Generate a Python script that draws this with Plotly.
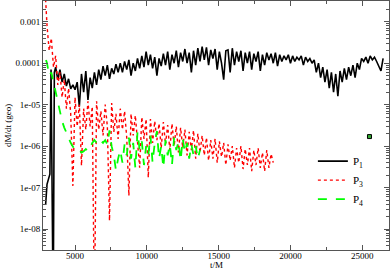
import plotly.graph_objects as go

# ---------------- data ----------------
# P1 (black solid)
t_p1 = [2950, 3000, 3050, 3150, 3250, 3330, 3480, 3560] + list(range(3650, 26451, 150))
p1 = [3.8e-8, 7.6e-8, 1.2e-7, 1.6e-7, 2.1e-7, 7.0e-5, 1e-10, 6.0e-5,
      8.0e-5, 4.0e-5, 7.0e-5, 3.5e-5, 5.5e-5, 2.8e-5, 4.2e-5, 2.4e-5, 3.0e-5, 2.3e-5,
      3.5e-5, 9.0e-6, 5.5e-5, 2.0e-5, 6.5e-5, 1.3e-5, 4.5e-5, 2.5e-5, 6.0e-5, 3.0e-5,
      7.0e-5, 4.0e-5, 8.5e-5, 5.0e-5, 9.0e-5, 4.2e-5, 7.5e-5, 5.5e-5, 9.5e-5, 6.0e-5,
      1.0e-4, 6.0e-5, 1.1e-4, 7.0e-5, 1.2e-4, 5.0e-5, 1.0e-4, 6.5e-5, 1.3e-4, 7.5e-5,
      1.5e-4, 8.0e-5, 1.9e-4, 9.0e-5, 1.6e-4, 7.5e-5, 1.4e-4, 5.0e-5, 1.3e-4, 8.5e-5,
      1.7e-4, 9.0e-5, 1.9e-4, 7.0e-5, 1.6e-4, 1.0e-4, 2.0e-4, 8.0e-5, 1.8e-4, 1.1e-4,
      2.2e-4, 1.0e-4, 1.8e-4, 6.0e-5, 2.0e-4, 9.0e-5, 2.3e-4, 1.1e-4, 2.5e-4, 1.2e-4,
      2.4e-4, 9.0e-5, 2.1e-4, 1.3e-4, 2.2e-4, 7.0e-5, 1.9e-4, 1.0e-4, 4.0e-5, 2.0e-4,
      2.1e-4, 6.0e-5, 2.3e-4, 9.0e-5, 1.9e-4, 1.1e-4, 2.0e-4, 6.5e-5, 1.8e-4, 1.0e-4,
      1.9e-4, 7.0e-5, 1.7e-4, 1.1e-4, 1.9e-4, 6.5e-5, 1.6e-4, 9.0e-5, 1.8e-4, 1.2e-4,
      1.7e-4, 1.0e-4, 1.8e-4, 8.5e-5, 1.6e-4, 1.1e-4, 1.5e-4, 1.2e-4, 1.6e-4, 1.0e-4,
      1.5e-4, 1.1e-4, 1.4e-4, 1.2e-4, 1.5e-4, 9.0e-5, 1.4e-4, 1.1e-4, 1.3e-4, 1.0e-4,
      1.2e-4, 6.0e-5, 1.0e-4, 4.5e-5, 8.0e-5, 3.5e-5, 7.0e-5, 2.5e-5, 6.0e-5, 2.0e-5,
      5.5e-5, 1.6e-5, 6.5e-5, 3.5e-5, 7.5e-5, 4.0e-5, 8.0e-5, 5.0e-5, 9.0e-5, 4.5e-5,
      1.0e-4, 7.0e-5, 1.3e-4, 1.1e-4, 1.4e-4, 1.0e-4, 1.5e-4, 1.2e-4, 1.4e-4, 1.1e-4,
      8.0e-5, 6.5e-5, 1.3e-4]

# P3 (red dotted)
t_p3 = [2950, 3000] + list(range(3050, 18801, 150))
p3 = [3.5e-3, 1.5e-3,
      8.0e-4, 2.0e-4, 4.0e-4, 8.0e-5, 1.5e-4, 3.0e-5, 6.0e-5, 1.5e-5, 4.0e-5, 8.0e-6,
      2.5e-5, 6.0e-6, 1.1e-7, 1.5e-5, 3.0e-6, 1.0e-5, 3.4e-7, 8.0e-6, 2.5e-6, 1.2e-5,
      3.0e-6, 9.0e-6, 1e-10, 1.2e-5, 2.5e-6, 7.0e-6, 1.8e-6, 1.0e-5, 3.0e-6, 1.6e-8,
      1.1e-5, 2.2e-6, 6.0e-6, 1.5e-6, 8.0e-6, 2.5e-6, 7.0e-6, 1.6e-6, 6.4e-8, 6.0e-6,
      1.8e-6, 5.5e-6, 1.3e-6, 3.0e-7, 5.0e-6, 1.5e-6, 4.5e-6, 1.75e-7, 4.5e-6, 1.2e-6,
      4.0e-6, 1.4e-6, 3.5e-6, 9.0e-7, 3.8e-6, 1.1e-6, 3.2e-6, 8.0e-7, 3.5e-6, 1.0e-6,
      3.0e-6, 7.0e-7, 2.8e-6, 9.0e-7, 2.5e-6, 6.0e-7, 2.2e-6, 8.0e-7, 2.4e-6, 5.0e-7,
      2.0e-6, 7.0e-7, 1.8e-6, 6.0e-7, 1.6e-6, 4.5e-7, 1.4e-6, 5.0e-7, 1.5e-6, 4.0e-7,
      1.3e-6, 5.5e-7, 1.2e-6, 3.5e-7, 1.1e-6, 4.5e-7, 1.0e-6, 3.0e-7, 9.0e-7, 4.0e-7,
      1.0e-6, 2.8e-7, 8.5e-7, 3.5e-7, 9.0e-7, 2.5e-7, 8.0e-7, 3.5e-7, 9.0e-7, 3.0e-7,
      7.0e-7, 2.5e-7, 8.0e-7, 3.0e-7, 6.5e-7, 4.0e-7]

# P4 (green dashed)
t_p4 = [2980] + list(range(3050, 13701, 150))
p4 = [1.2e-4,
      1.0e-4, 5.0e-5, 6.0e-5, 3.5e-5, 2.0e-5, 1.1e-5, 7.0e-6, 4.0e-6, 2.8e-6, 2.2e-6,
      1.6e-6, 1.2e-6, 9.5e-7, 8.0e-7, 7.5e-7, 8.0e-7, 7.0e-7, 7.5e-7, 8.5e-7, 7.5e-7,
      9.0e-7, 1.2e-6, 1.4e-6, 1.2e-6, 1.5e-6, 1.3e-6, 1.2e-6, 1.4e-6, 1.1e-6, 2.4e-6,
      1.0e-6, 6.0e-7, 2.6e-7, 5.0e-7, 8.0e-7, 4.0e-7, 1.1e-6, 6.0e-7, 1.6e-6, 5.0e-7,
      1.2e-6, 3.0e-7, 2.2e-6, 8.0e-7, 1.3e-6, 3.5e-7, 1.0e-6, 6.0e-7, 1.8e-6, 4.0e-7,
      1.2e-6, 2.3e-6, 5.0e-7, 1.0e-6, 3.0e-7, 1.4e-6, 6.0e-7, 1.1e-6, 3.5e-7, 1.6e-6,
      8.0e-7, 1.3e-6, 4.5e-7, 1.5e-6, 7.0e-7, 1.2e-6, 5.0e-7, 1.1e-6, 6.0e-7, 1.0e-6,
      5.0e-7, 8.0e-7]

# isolated point
t_iso = [25500]
v_iso = [1.7e-6]

series_names = ["P<sub>1</sub>", "P<sub>3</sub>", "P<sub>4</sub>"]
y_tickvals = [1e-8, 1e-7, 1e-6, 1e-5, 1e-4, 1e-3]
y_ticktext = ["1e-08", "1e-07", "1e-06", "1e-05", "0.0001", "0.001"]
x_title = "t/M"
y_title = "dM/dt (geo)"

# ---------------- figure ----------------
FONT = "Liberation Serif"
AX = "#555555"

fig = go.Figure()
fig.add_trace(go.Scatter(x=t_p1, y=p1, mode="lines", name=series_names[0],
                         line=dict(color="black", width=1.6)))
fig.add_trace(go.Scatter(x=t_p3, y=p3, mode="lines", name=series_names[1],
                         line=dict(color="#ff0000", width=1.4, dash="dot")))
fig.add_trace(go.Scatter(x=t_p4, y=p4, mode="lines", name=series_names[2],
                         line=dict(color="#00ff00", width=1.8, dash="dash")))
fig.add_trace(go.Scatter(x=t_iso, y=v_iso, mode="markers", showlegend=False,
                         marker=dict(symbol="square", size=4, color="#33aa33",
                                     line=dict(color="black", width=1))))

minor_vals = [k * 10.0 ** d for d in range(-9, -2) for k in range(2, 10)]

fig.update_layout(
    width=392, height=272,
    margin=dict(l=43, r=3, t=1, b=22),
    paper_bgcolor="white", plot_bgcolor="white",
    font=dict(family=FONT, size=9, color="black"),
    showlegend=True,
    legend=dict(x=0.78, y=0.415, xanchor="left", yanchor="top",
                bgcolor="rgba(0,0,0,0)", itemwidth=30, tracegroupgap=0,
                font=dict(family=FONT, size=11)),
    xaxis=dict(range=[2770, 26860], showgrid=False, zeroline=False,
               showline=True, linecolor=AX, linewidth=1, mirror="ticks",
               ticks="inside", ticklen=5, tickcolor=AX, dtick=5000, tick0=0,
               tickformat="d", ticklabelstandoff=-3,
               minor=dict(ticks="inside", ticklen=3, dtick=2500, tick0=0, tickcolor=AX, showgrid=False),
               tickfont=dict(size=9)),
    yaxis=dict(type="log", range=[-8.505, -2.5], showgrid=False, zeroline=False,
               showline=True, linecolor=AX, linewidth=1, mirror="ticks",
               ticks="inside", ticklen=5, tickcolor=AX,
               tickvals=y_tickvals, ticktext=y_ticktext,
               minor=dict(ticks="inside", ticklen=3, tickvals=minor_vals, tickcolor=AX, showgrid=False),
               title=dict(text=y_title, standoff=2, font=dict(size=9)),
               tickfont=dict(size=9)),
    annotations=[dict(text=x_title, xref="paper", yref="paper", x=0.5, y=-0.06,
                      xanchor="center", yanchor="middle", showarrow=False,
                      font=dict(family=FONT, size=9))],
)

fig.write_html("out.html", config={"displayModeBar": False},
               post_script="document.body.style.margin='0';")
